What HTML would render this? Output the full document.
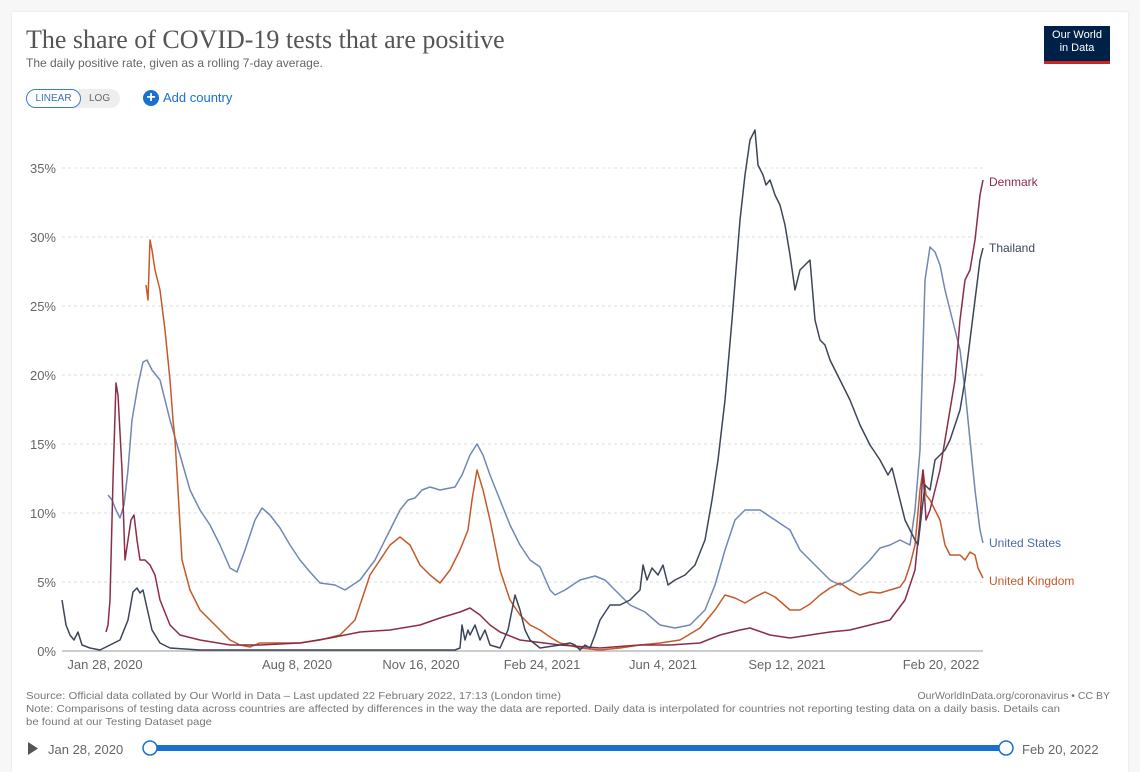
<!DOCTYPE html>
<html><head><meta charset="utf-8"><style>
body{margin:0;width:1140px;height:760px;background:#f7f7f7;font-family:"Liberation Sans",sans-serif;overflow:hidden;position:relative}
.card{position:absolute;left:12px;top:12px;width:1116px;height:760px;background:#fff;box-shadow:0 0 2px #ddd}
.t{position:absolute;white-space:nowrap}
</style></head><body>
<div class="card"></div>
<div class="t" style="left:26px;top:25px;font-family:'Liberation Serif',serif;font-size:26px;color:#555">The share of COVID-19 tests that are positive</div>
<div class="t" style="left:26px;top:56px;font-size:12px;color:#666">The daily positive rate, given as a rolling 7-day average.</div>
<div class="t" style="left:26px;top:89px;width:94px;height:19px;border-radius:10px;background:#eee"></div>
<div class="t" style="left:26px;top:89px;width:53px;height:17px;border:1px solid #3d7dd1;border-radius:10px;background:#fff;font-size:10px;color:#3d6fb0;text-align:center;line-height:17px">LINEAR</div>
<div class="t" style="left:89px;top:93px;font-size:10px;color:#666">LOG</div>
<div class="t" style="left:143px;top:90px;width:16px;height:16px;border-radius:50%;background:#1a6fd1;color:#fff;font-size:16px;line-height:15px;text-align:center;font-weight:bold">+</div>
<div class="t" style="left:163px;top:90px;font-size:13px;color:#1a6fd1">Add country</div>
<div class="t" style="left:1044px;top:26px;width:66px;height:38px;background:#002147;border-bottom:3px solid #ce261e;color:#fff;font-size:11px;text-align:center;line-height:13px;padding-top:3px;box-sizing:border-box">Our World<br>in Data</div>
<svg class="t" style="left:0;top:0" width="1140" height="760">
<g stroke="#ddd" stroke-dasharray="3,3">
<line x1="62" x2="983" y1="582" y2="582"/><line x1="62" x2="983" y1="513" y2="513"/><line x1="62" x2="983" y1="444" y2="444"/><line x1="62" x2="983" y1="375" y2="375"/><line x1="62" x2="983" y1="306" y2="306"/><line x1="62" x2="983" y1="237" y2="237"/><line x1="62" x2="983" y1="168" y2="168"/></g>
<line x1="62" x2="983" y1="651" y2="651" stroke="#999"/>
<g font-size="13" fill="#666" text-anchor="end">
<text x="56" y="656">0%</text><text x="56" y="587">5%</text><text x="56" y="518">10%</text><text x="56" y="449">15%</text><text x="56" y="380">20%</text><text x="56" y="311">25%</text><text x="56" y="242">30%</text><text x="56" y="173">35%</text></g>
<g font-size="13" fill="#666" text-anchor="middle">
<text x="105" y="669">Jan 28, 2020</text><text x="297" y="669">Aug 8, 2020</text><text x="421" y="669">Nov 16, 2020</text><text x="542" y="669">Feb 24, 2021</text><text x="663" y="669">Jun 4, 2021</text><text x="787" y="669">Sep 12, 2021</text><text x="941" y="669">Feb 20, 2022</text></g>
<g fill="none" stroke-width="1.5" stroke-linejoin="round">
<polyline stroke="#7088b3" points="108,495 112,500 116,510 120,518 124,505 128,470 132,420 138,385 143,362 147,360 152,370 160,380 170,420 180,455 190,490 200,510 210,525 220,545 230,568 237,572 245,550 255,520 262,508 270,515 280,528 290,545 300,560 310,572 320,583 335,585 345,590 360,580 375,560 390,530 400,510 408,500 415,498 422,490 430,487 440,490 455,487 462,475 470,455 477,444 483,455 490,475 500,500 510,525 520,545 530,560 540,567 550,590 555,595 565,590 580,580 595,576 605,580 615,590 630,605 645,612 660,625 675,628 690,625 705,610 715,585 725,550 735,520 745,510 760,510 775,520 790,530 800,550 815,565 830,580 840,585 850,580 870,560 880,548 890,545 900,540 910,545 915,510 920,450 925,280 930,247 935,252 940,265 945,290 950,310 960,350 965,390 970,440 975,490 980,530 983,543"/>
<polyline stroke="#c45a2a" points="146,285 148,300 150,240 152,250 155,270 160,290 165,330 170,380 173,420 175,440 178,490 182,560 190,590 200,610 210,620 220,630 230,640 240,645 250,647 260,643 280,643 300,643 320,640 340,635 355,620 370,575 380,560 390,545 400,537 410,545 420,565 430,575 440,583 450,570 460,550 468,530 472,500 477,470 483,490 490,520 500,570 510,600 520,615 530,625 540,630 550,637 560,643 580,648 600,650 620,648 640,645 660,643 680,640 700,628 715,610 725,595 735,598 745,603 755,597 765,592 775,597 790,610 800,610 810,604 820,595 830,588 840,583 850,590 860,595 870,592 880,593 890,590 900,587 905,580 910,565 915,545 920,490 923,470 926,495 930,500 935,510 940,520 945,545 950,555 960,555 965,560 970,552 975,555 978,568 983,578"/>
<polyline stroke="#8c2d47" points="106,632 108,625 110,600 113,480 116,383 118,395 122,470 125,560 128,540 131,520 134,515 137,540 140,560 145,560 150,565 155,575 160,600 170,625 180,635 200,640 230,645 260,645 300,643 330,638 360,632 390,630 420,625 440,618 460,612 470,608 480,615 490,625 500,632 520,640 560,645 600,648 640,645 670,645 700,643 720,635 740,630 750,628 770,635 790,638 810,635 830,632 850,630 870,625 890,620 905,600 915,570 920,520 923,470 926,520 930,510 935,490 940,470 945,440 950,410 955,380 960,320 965,280 970,270 975,240 980,195 983,180"/>
<polyline stroke="#3c4658" points="62,600 66,625 70,635 74,640 78,632 82,645 90,648 100,650 120,640 128,620 133,592 137,588 140,593 143,590 147,608 152,630 160,643 170,648 200,650 455,650 460,648 462,625 465,640 468,630 470,635 475,625 480,640 485,630 490,645 500,648 508,630 515,595 520,610 525,630 530,640 540,648 560,645 570,643 575,645 580,650 585,645 590,648 595,635 600,620 610,605 620,605 630,600 640,590 643,565 647,580 652,568 658,575 663,565 668,585 675,580 685,575 695,565 705,540 712,500 718,460 725,400 732,320 740,220 745,175 750,140 755,130 758,165 763,175 766,185 770,180 775,195 780,205 785,225 790,255 795,290 800,270 805,265 810,260 815,320 820,340 825,345 830,360 840,380 850,400 860,425 870,445 880,460 888,475 892,468 895,480 900,500 905,520 910,530 915,540 918,545 922,510 925,485 930,490 935,460 940,455 945,450 950,440 955,425 960,410 965,380 970,340 975,300 980,260 983,248"/>
</g>
<g font-size="12">
<text x="989" y="186" fill="#8c2d47">Denmark</text><text x="989" y="252" fill="#3c4658">Thailand</text><text x="989" y="547" fill="#4a6aa5">United States</text><text x="989" y="585" fill="#c45a2a">United Kingdom</text></g>
<g font-size="10.5" fill="#777">
<text x="26" y="699" textLength="535" lengthAdjust="spacingAndGlyphs">Source: Official data collated by Our World in Data – Last updated 22 February 2022, 17:13 (London time)</text>
<text x="1110" y="699" text-anchor="end">OurWorldInData.org/coronavirus • CC BY</text>
<text x="26" y="712" textLength="1034" lengthAdjust="spacingAndGlyphs">Note: Comparisons of testing data across countries are affected by differences in the way the data are reported. Daily data is interpolated for countries not reporting testing data on a daily basis. Details can</text>
<text x="26" y="725" textLength="186" lengthAdjust="spacingAndGlyphs">be found at our Testing Dataset page</text></g>
<polygon points="28,742 28,755 38,748.5" fill="#555"/>
<text x="48" y="754" font-size="13" fill="#666">Jan 28, 2020</text>
<rect x="150" y="745" width="856" height="6" fill="#1a6fd1"/>
<circle cx="150" cy="748" r="7" fill="#fff" stroke="#1a6fd1" stroke-width="1.5"/>
<circle cx="1006" cy="748" r="7" fill="#fff" stroke="#1a6fd1" stroke-width="1.5"/>
<text x="1022" y="754" font-size="13" fill="#666">Feb 20, 2022</text>
</svg>
</body></html>
